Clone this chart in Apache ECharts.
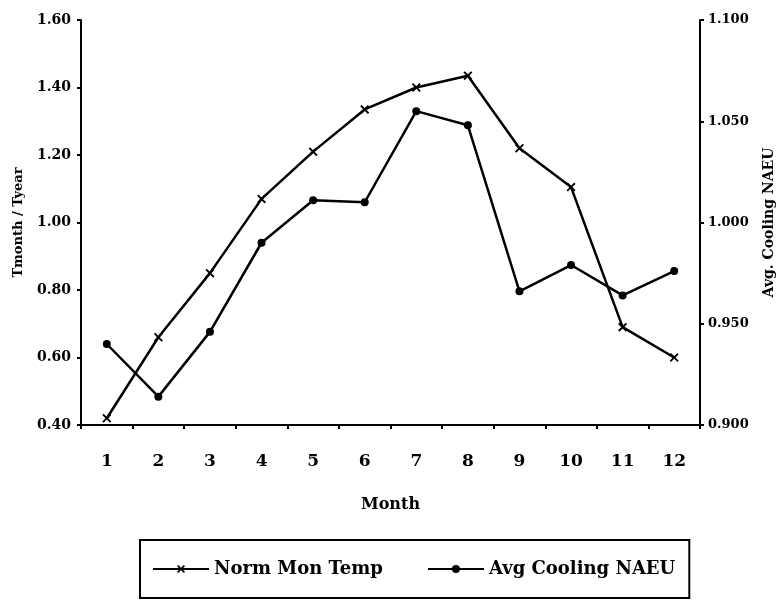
<!DOCTYPE html>
<html><head><meta charset="utf-8">
<script src="https://cdn.jsdelivr.net/npm/echarts@6/dist/echarts.min.js"></script>
<style>html,body{margin:0;padding:0;background:#fff}#c{width:784px;height:604px}</style>
</head><body><div id="c"></div>
<script>
var months = ['1','2','3','4','5','6','7','8','9','10','11','12'];
var normMonTemp = [0.42, 0.66, 0.85, 1.07, 1.21, 1.335, 1.40, 1.435, 1.22, 1.105, 0.69, 0.60];
var avgCoolingNAEU = [0.940, 0.914, 0.946, 0.990, 1.011, 1.010, 1.055, 1.048, 0.966, 0.979, 0.964, 0.976];
var seriesNames = ['Norm Mon Temp', 'Avg Cooling NAEU'];

var FONT = 'DejaVu Serif';
var xMark = 'path://M0,1.5 L1.5,0 L5,3.5 L8.5,0 L10,1.5 L6.5,5 L10,8.5 L8.5,10 L5,6.5 L1.5,10 L0,8.5 L3.5,5 Z';
var chart = echarts.init(document.getElementById('c'));
chart.setOption({
  backgroundColor: '#fff',
  animation: false,
  textStyle: {fontFamily: FONT, color: '#000'},
  grid: {left: 81, right: 84, top: 20, bottom: 179},
  legend: {
    bottom: 6, left: 140,
    padding: [20, 14, 20, 12],
    itemGap: 44, itemWidth: 56, itemHeight: 10,
    borderColor: '#000', borderWidth: 2,
    textStyle: {fontFamily: FONT, fontWeight: 'bold', fontSize: 18, color: '#000'},
    data: seriesNames
  },
  xAxis: {
    type: 'category', data: months, boundaryGap: true,
    name: 'Month', nameLocation: 'middle', nameGap: 72,
    nameTextStyle: {fontFamily: FONT, fontWeight: 'bold', fontSize: 16, color: '#000'},
    axisLine: {lineStyle: {color: '#000', width: 2}},
    axisTick: {show: true, length: 4, lineStyle: {color: '#000', width: 2}},
    axisLabel: {margin: 28, fontFamily: FONT, fontWeight: 'bold', fontSize: 17, color: '#000'},
    splitLine: {show: false}
  },
  yAxis: [{
    type: 'value', min: 0.4, max: 1.6, interval: 0.2, position: 'left',
    name: 'Tmonth / Tyear', nameLocation: 'middle', nameGap: 56,
    nameTextStyle: {fontFamily: FONT, fontWeight: 'bold', fontSize: 13, color: '#000'},
    axisLine: {show: true, lineStyle: {color: '#000', width: 2}},
    axisTick: {show: true, length: 4, lineStyle: {color: '#000', width: 2}},
    axisLabel: {fontFamily: FONT, fontWeight: 'bold', fontSize: 14, color: '#000', margin: 10,
      formatter: function(v){return v.toFixed(2);}},
    splitLine: {show: false}
  }, {
    type: 'value', min: 0.9, max: 1.1, interval: 0.05, position: 'right',
    name: 'Avg. Cooling NAEU', nameLocation: 'middle', nameGap: 62, nameRotate: 90,
    nameTextStyle: {fontFamily: FONT, fontWeight: 'bold', fontSize: 14, color: '#000'},
    axisLine: {show: true, lineStyle: {color: '#000', width: 2}},
    axisTick: {show: true, length: 4, lineStyle: {color: '#000', width: 2}},
    axisLabel: {fontFamily: FONT, fontWeight: 'bold', fontSize: 13, color: '#000', margin: 8,
      formatter: function(v){return v.toFixed(3);}},
    splitLine: {show: false}
  }],
  series: [{
    name: seriesNames[0], type: 'line', yAxisIndex: 0, data: normMonTemp,
    symbol: xMark, symbolSize: 9,
    lineStyle: {color: '#000', width: 2.5}, itemStyle: {color: '#000'}
  }, {
    name: seriesNames[1], type: 'line', yAxisIndex: 1, data: avgCoolingNAEU,
    symbol: 'circle', symbolSize: 8,
    lineStyle: {color: '#000', width: 2.5}, itemStyle: {color: '#000'}
  }]
});
</script></body></html>
